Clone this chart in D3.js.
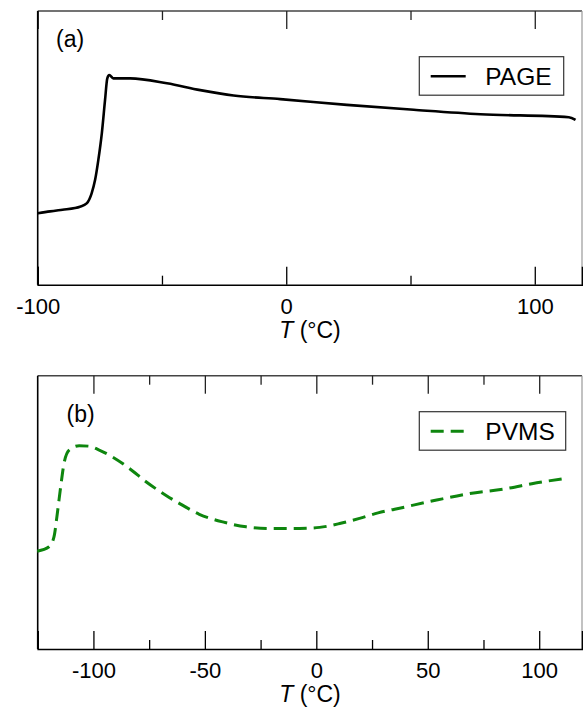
<!DOCTYPE html>
<html>
<head>
<meta charset="utf-8">
<script src="https://cdn.jsdelivr.net/npm/d3@7"></script>
<style>
    body { margin: 0; background: #fff; }
    svg { display: block; font-family: "Liberation Sans", Arial, sans-serif; }
</style>
</head>
<body>
<div id="chart"></div>
<script>
// PAGE trace (panel a), arbitrary heat-flow units
const pageT = [-100, -95, -90, -85, -83, -80.3, -78.3, -76.9, -75.6, -74.2, -72.9, -72.0, -71.2, -69.6,
    -62.8, -48, -34.6, -21.2, -2.4, 24.4, 51.3, 78.1, 113.7, 116.4]
const pageY = [0.261, 0.268, 0.274, 0.280, 0.285, 0.297, 0.334, 0.383, 0.456, 0.553, 0.675, 0.754, 0.766, 0.754,
    0.754, 0.736, 0.711, 0.691, 0.678, 0.657, 0.639, 0.623, 0.612, 0.602]

// PVMS trace (panel b)
const pvmsT = [-125.2, -119.9, -117.7, -116.2, -114.7, -113.2, -110.9, -106.4, -101.9, -97.4, -91.5, -83.9,
    -76.4, -67.4, -61.5, -52.5, -42.0, -31.5, -21.0, -7.5, 1.5, 10.5, 19.4, 27.7, 38.9, 54.0, 68.9,
    83.9, 98.9, 113.1]
const pvmsY = [0.358, 0.374, 0.410, 0.496, 0.593, 0.679, 0.728, 0.744, 0.742, 0.728, 0.703, 0.661,
    0.612, 0.562, 0.533, 0.493, 0.465, 0.447, 0.441, 0.441, 0.445, 0.459, 0.478, 0.498, 0.518, 0.545, 0.569,
    0.585, 0.608, 0.626]

const panels = [
    {
        label: '(a)', name: 'PAGE', T: pageT, Y: pageY,
        domain: [-100, 119], major: [-100, 0, 100], minor: [-50, 50],
        top: 11, bottom: 284.7, color: '#000', dash: null, width: 2.6,
        legendTop: 56.7, legendW: 144.4
    },
    {
        label: '(b)', name: 'PVMS', T: pvmsT, Y: pvmsY,
        domain: [-125, 119.2], major: [-100, -50, 0, 50, 100], minor: [-75, -25, 25, 75],
        top: 375.7, bottom: 649, color: '#0e860e', dash: '13,7', width: 3,
        legendTop: 411.7, legendW: 146.4
    }
]

const W = 583, H = 710
const left = 37.7, right = 582

const svg = d3.select('#chart')
    .append('svg')
    .attr('width', W)
    .attr('height', H)

panels.forEach(p => {
    const x = d3.scaleLinear().domain(p.domain).range([left, right])
    const y = d3.scaleLinear().domain([0, 1]).range([p.bottom, p.top])
    const g = svg.append('g')

    // Frame
    g.append('line').attr('x1', left).attr('x2', right).attr('y1', p.top).attr('y2', p.top)
        .attr('stroke', '#444').attr('stroke-width', 1.5)
    g.append('line').attr('x1', right).attr('x2', right).attr('y1', p.top).attr('y2', p.bottom)
        .attr('stroke', '#999').attr('stroke-width', 1.2)

    // Bottom axis with labels, ticks pointing inward
    const ax = g.append('g').attr('transform', `translate(0,${p.bottom})`)
        .call(d3.axisBottom(x).tickValues(p.major).tickSize(-18).tickPadding(0).tickFormat(d => String(d)))
    ax.select('.domain').attr('stroke', '#000').attr('stroke-width', 1.6)
    ax.selectAll('.tick line').attr('stroke', '#000').attr('stroke-width', 1.3)
    ax.selectAll('.tick text').attr('font-size', 22).attr('fill', '#000')
        .attr('y', 29).attr('dy', 0)
        .attr('font-family', '"Liberation Sans", Arial, sans-serif')

    const axMinor = g.append('g').attr('transform', `translate(0,${p.bottom})`)
        .call(d3.axisBottom(x).tickValues(p.minor).tickSize(-9).tickFormat(''))
    axMinor.select('.domain').remove()
    axMinor.selectAll('.tick line').attr('stroke', '#000').attr('stroke-width', 1.3)

    // Top axis ticks
    const axTop = g.append('g').attr('transform', `translate(0,${p.top})`)
        .call(d3.axisTop(x).tickValues(p.major).tickSize(-18).tickFormat(''))
    axTop.select('.domain').remove()
    axTop.selectAll('.tick line').attr('stroke', '#222').attr('stroke-width', 1.3)
    const axTopMinor = g.append('g').attr('transform', `translate(0,${p.top})`)
        .call(d3.axisTop(x).tickValues(p.minor).tickSize(-9).tickFormat(''))
    axTopMinor.select('.domain').remove()
    axTopMinor.selectAll('.tick line').attr('stroke', '#222').attr('stroke-width', 1.3)

    // Left frame
    g.append('line').attr('x1', left).attr('x2', left).attr('y1', p.top).attr('y2', p.bottom)
        .attr('stroke', '#000').attr('stroke-width', 1.6)

    // Axis title
    const title = g.append('text')
        .attr('x', 310).attr('y', p.bottom + 53)
        .attr('text-anchor', 'middle')
        .attr('font-size', 23)
    title.append('tspan').attr('font-style', 'italic').text('T')
    title.append('tspan').text(' (°C)')

    // Panel label
    g.append('text')
        .attr('x', p.label === '(a)' ? 56 : 66.5)
        .attr('y', p.top + (p.label === '(a)' ? 36 : 46))
        .attr('font-size', 23)
        .text(p.label)

    // Curve
    const data = p.T.map((t, i) => ({ t: t, v: p.Y[i] }))
    const line = d3.line()
        .x(d => x(d.t))
        .y(d => y(d.v))
        .curve(d3.curveMonotoneX)
    g.append('path')
        .datum(data)
        .attr('d', line)
        .attr('fill', 'none')
        .attr('stroke', p.color)
        .attr('stroke-width', p.width)
        .attr('stroke-dasharray', p.dash)
        .attr('stroke-linejoin', 'round')

    // Legend
    const lg = g.append('g').attr('transform', `translate(419.3,${p.legendTop})`)
    lg.append('rect')
        .attr('width', p.legendW).attr('height', 38.5)
        .attr('fill', '#fff').attr('stroke', '#333').attr('stroke-width', 1.2)
    lg.append('line')
        .attr('x1', 11.4).attr('x2', 46.4).attr('y1', 19.5).attr('y2', 19.5)
        .attr('stroke', p.color).attr('stroke-width', p.width)
        .attr('stroke-dasharray', p.dash)
    lg.append('text')
        .attr('x', 66).attr('y', 28.3)
        .attr('font-size', 24.5)
        .text(p.name)
})
</script>
</body>
</html>
